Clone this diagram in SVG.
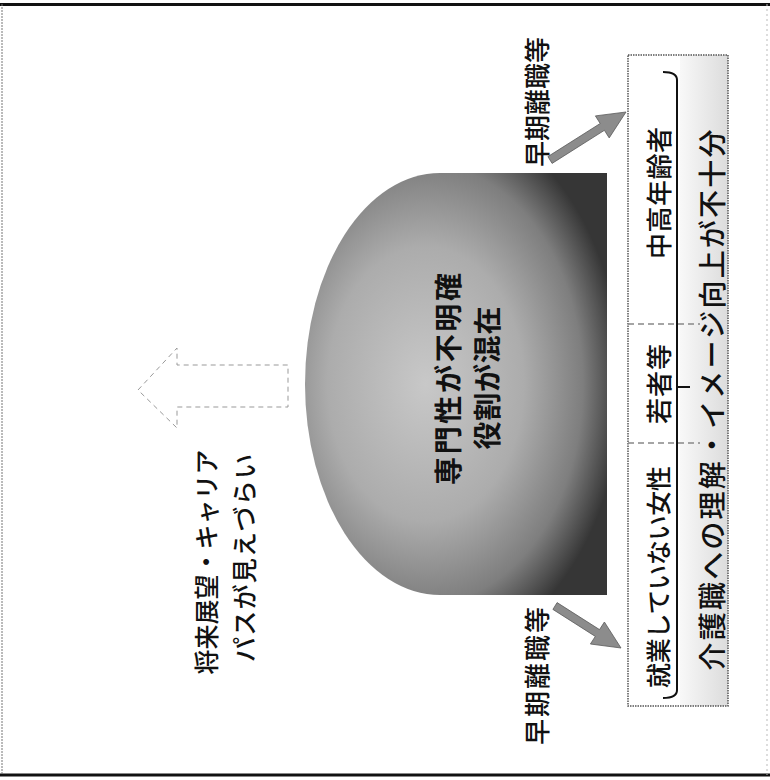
<svg xmlns="http://www.w3.org/2000/svg" width="770" height="780" viewBox="0 0 770 780">
  <defs>
    <radialGradient id="domeGrad" cx="0.4" cy="0.5" r="0.65">
      <stop offset="0" stop-color="#c8c8c8"/>
      <stop offset="0.5" stop-color="#acacac"/>
      <stop offset="0.8" stop-color="#7e7e7e"/>
      <stop offset="1" stop-color="#363636"/>
    </radialGradient>
    <linearGradient id="colGrad" x1="0" y1="0" x2="1" y2="0">
      <stop offset="0" stop-color="#f8f8f8"/>
      <stop offset="1" stop-color="#dcdcdc"/>
    </linearGradient>
    <style>
      .t { font-family: "Noto Sans CJK JP", "Noto Sans", sans-serif; fill: #111; text-anchor: middle; dominant-baseline: central; font-weight: 500; }
      .b { font-weight: bold; }
      .arrow { fill: #8c8c8c; stroke: #5a5a5a; stroke-width: 0.8; }
      .dash { fill: none; stroke: #999; stroke-width: 1; stroke-dasharray: 5 4; }
      .div { stroke: #888; stroke-width: 1.5; stroke-dasharray: 6 4; }
    </style>
  </defs>
  <rect width="770" height="780" fill="#fff"/>
  <!-- frame -->
  <line x1="0" y1="4.5" x2="770" y2="4.5" stroke="#111" stroke-width="3"/>
  <line x1="0" y1="775" x2="770" y2="775" stroke="#111" stroke-width="3"/>
  <line x1="2" y1="4" x2="2" y2="775" stroke="#777" stroke-width="1" stroke-dasharray="2 1"/>
  <line x1="767" y1="4" x2="767" y2="775" stroke="#bbb" stroke-width="1" stroke-dasharray="2 3"/>

  <g id="future-arrow">
    <polygon class="dash" points="138,390 177,348 177,365 288,365 288,407 177,407 177,428"/>
  </g>
  <g id="future-label">
    <text class="t" font-size="25" textLength="225" lengthAdjust="spacing" transform="translate(205,562) rotate(-90)">将来展望・キャリア</text>
    <text class="t" font-size="25" textLength="208" lengthAdjust="spacing" transform="translate(243,558) rotate(-90)">パスが見えづらい</text>
  </g>

  <g id="dome">
    <path d="M440,173 H607 V595 H440 A135,211 0 0 1 440,173 Z" fill="url(#domeGrad)"/>
    <text class="t b" font-size="28" textLength="212" lengthAdjust="spacing" transform="translate(447,379) rotate(-90)">専門性が不明確</text>
    <text class="t b" font-size="28" textLength="143" lengthAdjust="spacing" transform="translate(486,378) rotate(-90)">役割が混在</text>
  </g>

  <g id="label-top">
    <text class="t" font-size="26" textLength="130" lengthAdjust="spacing" transform="translate(535,102) rotate(-90)">早期離職等</text>
  </g>
  <g id="label-bottom">
    <text class="t" font-size="26" textLength="138" lengthAdjust="spacing" transform="translate(535,676) rotate(-90)">早期離職等</text>
  </g>

  <g id="connectors">
    <polygon class="arrow" points="547.9,156.6 600.2,123.5 595.4,115.9 626,112 609.2,137.9 604.4,130.3 552.1,163.4"/>
    <polygon class="arrow" points="557.1,602.6 599.5,629.6 604.4,622 621,648 590.4,644 595.3,636.4 552.9,609.4"/>
  </g>

  <g id="target-box">
    <rect x="628" y="55" width="100" height="651" fill="#fff"/>
    <rect x="680" y="55" width="48" height="651" fill="url(#colGrad)"/>
    <rect x="628" y="55" width="100" height="651" fill="none" stroke="#555" stroke-width="1.5" stroke-dasharray="1.5 1"/>
    <line class="div" x1="628" y1="324" x2="700" y2="324"/>
    <line class="div" x1="628" y1="443" x2="700" y2="443"/>
    <path d="M663,72 Q677,72 677,80 V690 Q677,698 663,698 M677,387 H690" fill="none" stroke="#111" stroke-width="2"/>
  </g>
  <g id="group-older">
    <text class="t" font-size="26" textLength="132" lengthAdjust="spacing" transform="translate(657,193) rotate(-90)">中高年齢者</text>
  </g>
  <g id="group-young">
    <text class="t" font-size="26" textLength="80" lengthAdjust="spacing" transform="translate(657,384) rotate(-90)">若者等</text>
  </g>
  <g id="group-women">
    <text class="t" font-size="25" textLength="222" lengthAdjust="spacing" transform="translate(657,577) rotate(-90)">就業していない女性</text>
  </g>
  <g id="understanding">
    <text class="t" font-size="28" textLength="541" lengthAdjust="spacing" transform="translate(711,400) rotate(-90)">介護職への理解・イメージ向上が不十分</text>
  </g>
</svg>
